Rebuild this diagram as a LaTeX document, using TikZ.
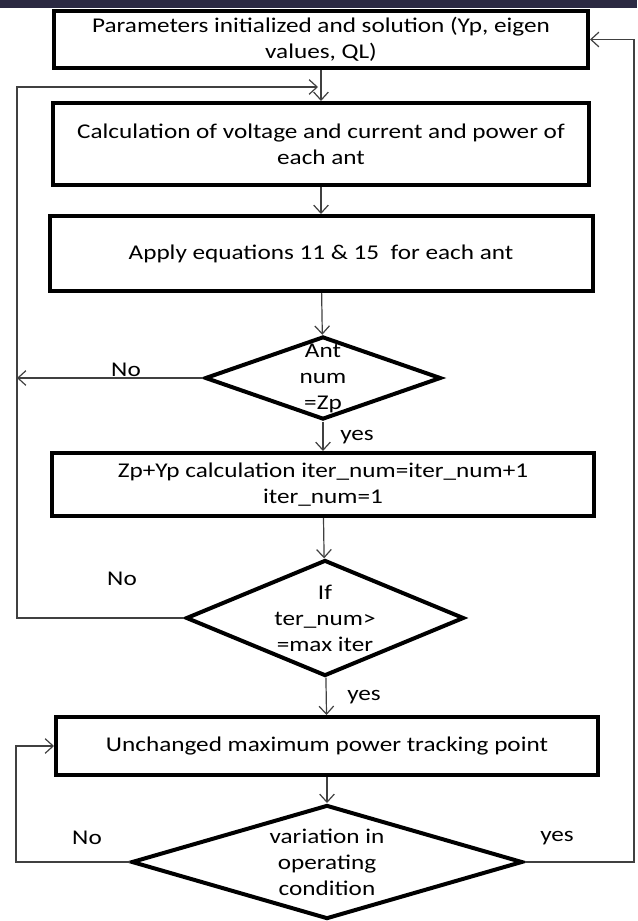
\documentclass[tikz,border=0pt]{standalone}
\usepackage{fontspec}
\setmainfont{Carlito}[FakeStretch = 1.2]
\usetikzlibrary{shapes.geometric, arrows.meta}

\definecolor{barcolor}{RGB}{43,41,66}

\begin{document}
\begin{tikzpicture}[x = 0.75pt, y = -0.75pt,
    every node/.style = {font = \fontsize{15.75}{19.5}\selectfont, align = center},
    box/.style = {shape = rectangle, draw, line width = 3pt, inner sep = 2pt},
    decision/.style = {shape = diamond, draw, line width = 3pt, inner sep = 0pt},
    flow/.style = {draw = black!75, line width = 0.9pt, -{Straight Barb[length = 6pt, width = 11pt]}}]
    \useasboundingbox (0,0) rectangle (637,921);
    \fill[barcolor] (0,0) rectangle (637,8);
    % process boxes and decisions
    \node[box, minimum width = 400.5pt, minimum height = 42.75pt] (init) at (321,39.5)
        {Parameters initialized and solution (Yp, eigen\\values, QL)};
    \node[box, minimum width = 402pt, minimum height = 61.5pt] (calc) at (321,144)
        {Calculation of voltage and current and power of\\each ant};
    \node[box, minimum width = 407.25pt, minimum height = 56.25pt] (apply) at (321,253.5)
        {Apply equations 11 \& 15\ \ for each ant};
    \node[decision, minimum width = 177pt, minimum height = 62.25pt,
        label = {[align = center]center:Ant\\num\\=Zp}] (antnum) at (323,378) {};
    \node[box, minimum width = 406.5pt, minimum height = 47.25pt] (update) at (323,484.5)
        {Zp+Yp calculation iter\_num=iter\_num+1\\iter\_num=1};
    \node[decision, minimum width = 208.5pt, minimum height = 87pt,
        label = {[align = center]center:If\\ter\_num>\\=max iter}] (iter) at (325,618) {};
    \node[box, minimum width = 406.5pt, minimum height = 43.5pt] (mppt) at (327,746)
        {Unchanged maximum power tracking point};
    \node[decision, minimum width = 293.25pt, minimum height = 85.5pt,
        label = {[align = center]center:variation in\\operating\\condition}] (vary) at (327,862) {};
    % loop corners
    \coordinate (loopin) at (318,87);
    \coordinate (lft) at (17,87);
    \coordinate (lft2) at (16,746);
    \coordinate (rgt) at (634,39.5);
    % connectors
    \draw[flow] (init) -- (calc);
    \draw[flow] (calc) -- (apply);
    \draw[flow] (apply) -- (antnum);
    \draw[flow] (antnum) -- (update);
    \draw[flow] (antnum.west) -- (antnum.west -| lft);
    \draw[flow] (update) -- (iter);
    \draw[flow] (iter.west) -| (lft) -- (loopin);
    \draw[flow] (iter) -- (mppt);
    \draw[flow] (mppt) -- (vary);
    \draw[flow] (vary.west) -| (lft2) -- (mppt.west);
    \draw[flow] (vary.east) -| (rgt) -- (init.east);
    % branch labels
    \node (no1) at (126,370) {No};
    \node (yes1) at (357,437) {yes};
    \node (no2) at (122,579) {No};
    \node (yes2) at (364,697) {yes};
    \node (no3) at (87,838) {No};
    \node (yes3) at (557,838) {yes};
\end{tikzpicture}
\end{document}
